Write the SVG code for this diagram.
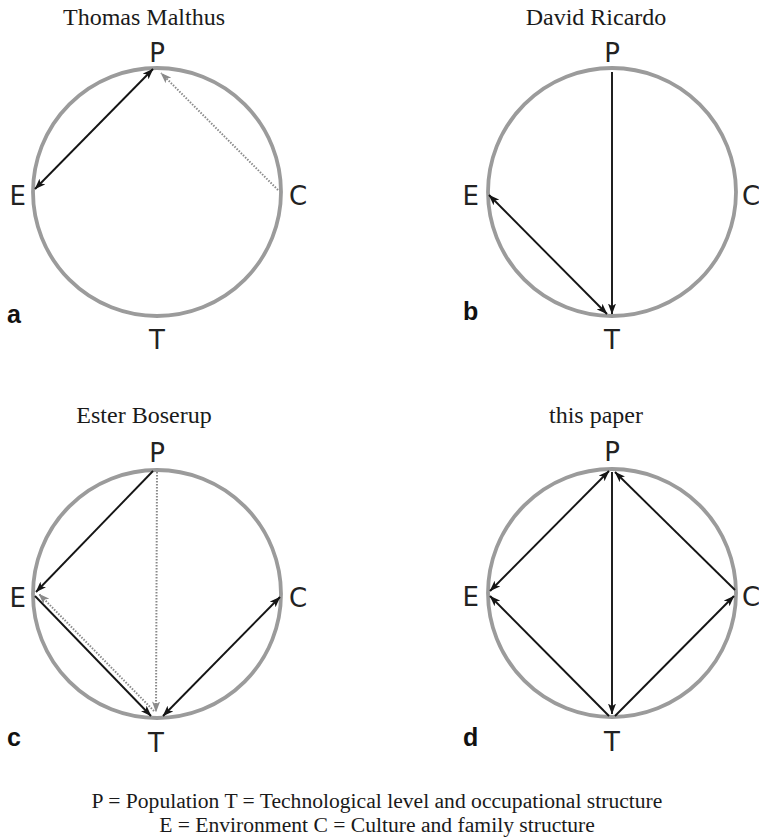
<svg xmlns="http://www.w3.org/2000/svg" width="759" height="840" viewBox="0 0 759 840">
<style>
.bg{fill:#fff}
.ring{fill:none;stroke:#9b9b9b;stroke-width:3.8}
.ttl{font-family:"Liberation Serif","Times New Roman",serif;font-size:24px;fill:#1a1a1a;text-anchor:middle}
.lbl{font-family:"DejaVu Sans","Noto Sans",sans-serif;font-size:26px;fill:#222}
.mid{text-anchor:middle}
.end{text-anchor:end}
.pl{font-family:"Liberation Sans",Arial,sans-serif;font-size:25px;font-weight:bold;fill:#111}
.blk{stroke:#151515;stroke-width:1.9;fill:none}
.dot{stroke:#8a8a8a;stroke-width:2;stroke-dasharray:1.5 1.5;fill:none}
.cap{font-family:"Liberation Serif","Times New Roman",serif;font-size:21.6px;fill:#1a1a1a;text-anchor:middle}
</style>
<defs>
<marker id="ah" viewBox="0 0 11 8" refX="10.5" refY="4" markerWidth="11" markerHeight="8" markerUnits="userSpaceOnUse" orient="auto-start-reverse">
<path d="M0,0 L11,4 L0,8 L2.8,4 z" fill="#151515"/>
</marker>
<marker id="ahg" viewBox="0 0 11 8" refX="10.5" refY="4" markerWidth="11" markerHeight="8" markerUnits="userSpaceOnUse" orient="auto-start-reverse">
<path d="M0,0 L11,4 L0,8 L2.8,4 z" fill="#8a8a8a"/>
</marker>
</defs>
<rect class="bg" x="0" y="0" width="759" height="840"/>

<g id="panel-a">
<text class="ttl" x="144" y="25">Thomas Malthus</text>
<circle class="ring" cx="157" cy="192" r="124"/>
<text class="lbl mid" x="157" y="62">P</text>
<text class="lbl end" x="26" y="205">E</text>
<text class="lbl" x="289" y="205">C</text>
<text class="lbl mid" x="157" y="349">T</text>
<text class="pl" x="7" y="323">a</text>
</g>

<g id="panel-b">
<text class="ttl" x="596" y="25">David Ricardo</text>
<circle class="ring" cx="612" cy="192" r="124"/>
<text class="lbl mid" x="612" y="62">P</text>
<text class="lbl end" x="479" y="205">E</text>
<text class="lbl" x="742" y="205">C</text>
<text class="lbl mid" x="612" y="349">T</text>
<text class="pl" x="463" y="320">b</text>
</g>

<g id="panel-c">
<text class="ttl" x="144" y="423">Ester Boserup</text>
<circle class="ring" cx="157" cy="594" r="124"/>
<text class="lbl mid" x="157" y="462">P</text>
<text class="lbl end" x="26" y="607">E</text>
<text class="lbl" x="289" y="607">C</text>
<text class="lbl mid" x="156" y="752">T</text>
<text class="pl" x="7" y="746">c</text>
</g>

<g id="panel-d">
<text class="ttl" x="596" y="423">this paper</text>
<circle class="ring" cx="612" cy="593" r="124"/>
<text class="lbl mid" x="612" y="461">P</text>
<text class="lbl end" x="479" y="606">E</text>
<text class="lbl" x="742" y="606">C</text>
<text class="lbl mid" x="612" y="751">T</text>
<text class="pl" x="463" y="746">d</text>
</g>

<g id="connectors">
<!-- a -->
<line class="blk" x1="35" y1="189" x2="153" y2="69" marker-start="url(#ah)" marker-end="url(#ah)"/>
<line class="dot" x1="278" y1="190" x2="161" y2="73" marker-end="url(#ahg)"/>
<!-- b -->
<line class="blk" x1="612" y1="72" x2="612" y2="314" marker-end="url(#ah)"/>
<line class="blk" x1="489" y1="195" x2="607" y2="314" marker-start="url(#ah)" marker-end="url(#ah)"/>
<!-- c -->
<line class="blk" x1="153" y1="471" x2="36" y2="592" marker-end="url(#ah)"/>
<line class="blk" x1="35" y1="596" x2="151" y2="716" marker-end="url(#ah)"/>
<line class="dot" x1="154" y1="711" x2="39" y2="594" marker-end="url(#ahg)"/>
<line class="dot" x1="157" y1="472" x2="156" y2="712" marker-end="url(#ahg)"/>
<line class="blk" x1="163" y1="716" x2="280" y2="597" marker-start="url(#ah)" marker-end="url(#ah)"/>
<!-- d -->
<line class="blk" x1="490" y1="591" x2="609" y2="471" marker-start="url(#ah)" marker-end="url(#ah)"/>
<line class="blk" x1="612" y1="472" x2="612" y2="714" marker-end="url(#ah)"/>
<line class="blk" x1="735" y1="590" x2="615" y2="472" marker-end="url(#ah)"/>
<line class="blk" x1="609" y1="716" x2="490" y2="596" marker-end="url(#ah)"/>
<line class="blk" x1="615" y1="716" x2="734" y2="596" marker-end="url(#ah)"/>
</g>

<g id="legend">
<text class="cap" x="377" y="808">P = Population T = Technological level and occupational structure</text>
<text class="cap" x="377" y="832">E = Environment C = Culture and family structure</text>
</g>
</svg>
